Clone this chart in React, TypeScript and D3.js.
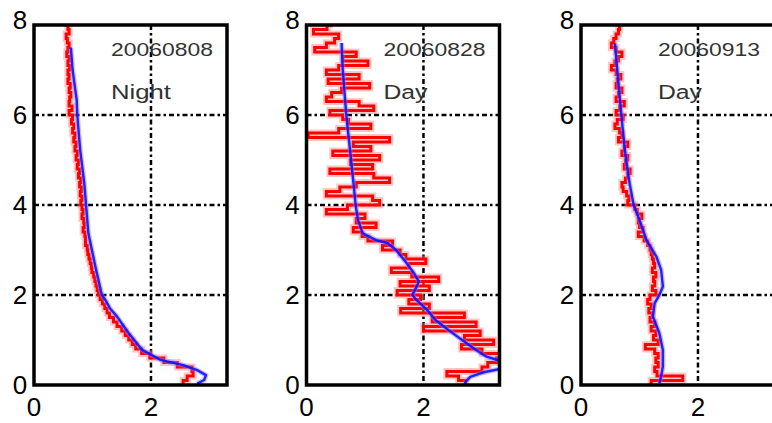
import React from 'react';
import * as d3 from 'd3';

const WIDTH = 772;
const HEIGHT = 423;

// Altitude grid (km) of the high-resolution retrieval, top to bottom
const redAltitudes = [
  8.0, 7.9, 7.8, 7.7, 7.6, 7.5, 7.4, 7.3, 7.2, 7.1,
  7.0, 6.9, 6.8, 6.7, 6.6, 6.5, 6.4, 6.3, 6.2, 6.1,
  6.0, 5.9, 5.8, 5.7, 5.6, 5.5, 5.4, 5.3, 5.2, 5.1,
  5.0, 4.9, 4.8, 4.7, 4.6, 4.5, 4.4, 4.3, 4.2, 4.1,
  4.0, 3.9, 3.8, 3.7, 3.6, 3.5, 3.4, 3.3, 3.2, 3.1,
  3.0, 2.9, 2.8, 2.7, 2.6, 2.5, 2.4, 2.3, 2.2, 2.1,
  2.0, 1.9, 1.8, 1.7, 1.6, 1.5, 1.4, 1.3, 1.2, 1.1,
  1.0, 0.9, 0.8, 0.7, 0.6, 0.5, 0.4, 0.3, 0.2, 0.1,
  0.0,
];

// 20060808 (night) profiles
const red0808 = [
  0.52, 0.58, 0.60, 0.55, 0.57, 0.60, 0.58, 0.56, 0.60, 0.58,
  0.61, 0.58, 0.60, 0.58, 0.62, 0.60, 0.63, 0.61, 0.60, 0.65,
  0.60, 0.66, 0.64, 0.68, 0.66, 0.70, 0.68, 0.72, 0.70, 0.74,
  0.72, 0.76, 0.74, 0.78, 0.76, 0.80, 0.78, 0.81, 0.79, 0.82,
  0.80, 0.82, 0.84, 0.82, 0.85, 0.86, 0.84, 0.87, 0.88, 0.88,
  0.91, 0.92, 0.94, 0.96, 0.98, 0.99, 1.02, 1.04, 1.06, 1.08,
  1.10, 1.13, 1.17, 1.21, 1.25, 1.29, 1.36, 1.42, 1.50, 1.56,
  1.62, 1.68, 1.74, 1.84, 1.98, 2.22, 2.45, 2.70, 2.72, 2.62,
  2.55,
];
const blueAlt0808 = [7.5, 7.0, 6.33, 6.0, 5.22, 4.48, 4.0, 3.37, 2.63, 2.0, 1.89, 1.7, 1.52, 1.15, 0.78, 0.56, 0.44, 0.33, 0.22, 0.11, 0.03];
const blue0808 = [0.63, 0.66, 0.73, 0.74, 0.79, 0.86, 0.89, 0.93, 1.05, 1.16, 1.22, 1.30, 1.42, 1.62, 1.85, 2.16, 2.55, 2.79, 2.94, 2.91, 2.79];

// 20060828 (day) profiles
const red0828 = [
  0.45, 0.35, 0.12, 0.55, 0.48, 0.34, 0.14, 0.85, 0.62, 1.05,
  0.55, 0.34, 0.90, 0.37, 1.08, 0.60, 0.43, 0.34, 0.90, 1.15,
  0.40, 0.62, 0.72, 1.10, 0.55, 0.03, 1.42, 0.80, 1.10, 0.45,
  1.25, 0.75, 1.13, 0.40, 1.15, 1.42, 0.85, 0.57, 0.34, 1.13,
  1.25, 0.70, 0.34, 1.00, 0.85, 1.19, 0.80, 0.95, 1.05, 1.47,
  1.30, 1.60, 1.70, 2.04, 1.75, 1.45, 1.80, 2.26, 1.60, 2.10,
  1.55, 1.95, 1.75, 2.10, 1.61, 2.70, 2.15, 2.90, 2.00, 2.97,
  2.70, 3.20, 2.65, 3.00, 3.30, 3.25, 3.10, 3.00, 2.40, 2.60,
  2.72,
];
const blueAlt0828 = [7.6, 7.0, 6.0, 5.15, 4.4, 4.0, 3.67, 3.37, 3.22, 3.15, 3.0, 2.78, 2.48, 2.3, 2.18, 2.0, 1.89, 1.67, 1.44, 1.22, 1.0, 0.78, 0.63, 0.55, 0.45, 0.36, 0.29, 0.18, 0.07, 0.0];
const blue0828 = [0.60, 0.62, 0.68, 0.75, 0.81, 0.84, 0.88, 0.96, 1.19, 1.39, 1.53, 1.67, 1.84, 1.92, 1.88, 1.81, 1.88, 2.06, 2.21, 2.43, 2.66, 2.90, 3.08, 3.28, 3.40, 3.32, 3.05, 2.80, 2.72, 2.70];

// 20060913 (day) profiles
const red0913 = [
  0.62, 0.66, 0.64, 0.60, 0.56, 0.52, 0.60, 0.70, 0.64, 0.58,
  0.52, 0.60, 0.68, 0.62, 0.60, 0.70, 0.64, 0.60, 0.74, 0.66,
  0.60, 0.72, 0.62, 0.58, 0.66, 0.70, 0.64, 0.80, 0.74, 0.70,
  0.80, 0.76, 0.74, 0.84, 0.80, 0.76, 0.70, 0.72, 0.78, 0.82,
  0.80, 0.92, 0.96, 1.04, 0.98, 1.00, 1.06, 0.98, 1.08, 1.14,
  1.18, 1.20, 1.22, 1.24, 1.26, 1.22, 1.28, 1.24, 1.26, 1.22,
  1.28, 1.18, 1.14, 1.20, 1.16, 1.22, 1.18, 1.26, 1.20, 1.28,
  1.24, 1.32, 1.10, 1.26, 1.32, 1.28, 1.32, 1.26, 1.30, 1.74,
  1.20,
];
const blueAlt0913 = [7.59, 6.85, 6.0, 5.22, 4.56, 4.0, 3.67, 3.22, 2.85, 2.56, 2.19, 2.0, 1.82, 1.52, 1.15, 0.78, 0.41, 0.19, 0.04];
const blue0913 = [0.58, 0.63, 0.69, 0.75, 0.82, 0.90, 1.00, 1.12, 1.29, 1.37, 1.40, 1.34, 1.26, 1.23, 1.34, 1.40, 1.40, 1.37, 1.34];

const panelDates = ['20060808', '20060828', '20060913'];
const panelPeriods = ['Night', 'Day', 'Day'];

const xTicks = [0, 2];
const yTicks = [0, 2, 4, 6, 8];
const xGrid = [2];
const yGrid = [2, 4, 6];
const X_DOMAIN: [number, number] = [0, 3.3];
const Y_DOMAIN: [number, number] = [0, 8];

// Layout
const PANEL_LEFTS = [34, 306.5, 581];
const PLOT_W = 193;
const PLOT_TOP = 25;
const PLOT_BOTTOM = 385;
const FONT = '"Liberation Sans", Arial, Helvetica, sans-serif';
const PERIOD_WIDTHS: Record<string, number> = { Night: 60, Day: 44 };

type Profile = { alt: number; val: number };

const zipProfile = (alts: number[], vals: number[]): Profile[] =>
  alts.map((a, i) => ({ alt: a, val: vals[i] }));

const panels = [
  { red: zipProfile(redAltitudes, red0808), blue: zipProfile(blueAlt0808, blue0808) },
  { red: zipProfile(redAltitudes, red0828), blue: zipProfile(blueAlt0828, blue0828) },
  { red: zipProfile(redAltitudes, red0913), blue: zipProfile(blueAlt0913, blue0913) },
];

function Panel({ index }: { index: number }) {
  const left = PANEL_LEFTS[index];
  const x = d3.scaleLinear().domain(X_DOMAIN).range([left, left + PLOT_W]);
  const y = d3.scaleLinear().domain(Y_DOMAIN).range([PLOT_BOTTOM, PLOT_TOP]);
  // raw retrieval: one horizontal run per altitude level
  const stepLine = d3
    .line<Profile>()
    .x((d) => x(d.val))
    .y((d) => y(d.alt))
    .curve(d3.curveStepAfter);
  const line = d3
    .line<Profile>()
    .x((d) => x(d.val))
    .y((d) => y(d.alt));
  const { red, blue } = panels[index];
  const clipId = `clip-${index}`;
  const gridDash = '5,3,2.5,3';
  const period = panelPeriods[index];

  return (
    <g>
      <defs>
        <clipPath id={clipId}>
          <rect x={left} y={PLOT_TOP} width={PLOT_W} height={PLOT_BOTTOM - PLOT_TOP} />
        </clipPath>
      </defs>

      {/* grid */}
      {xGrid.map((g) => (
        <line key={`xg${g}`} x1={x(g)} x2={x(g)} y1={PLOT_TOP} y2={PLOT_BOTTOM}
          stroke="#000" strokeWidth={2.5} strokeDasharray={gridDash} />
      ))}
      {yGrid.map((g) => (
        <line key={`yg${g}`} x1={left} x2={left + PLOT_W} y1={y(g)} y2={y(g)}
          stroke="#000" strokeWidth={2.5} strokeDasharray={gridDash} />
      ))}

      {/* labels */}
      <text x={left + 77} y={56} fontFamily={FONT} fontSize={19} fill="#333"
        textLength={102} lengthAdjust="spacingAndGlyphs">{panelDates[index]}</text>
      <text x={left + 77} y={99} fontFamily={FONT} fontSize={20} fill="#333"
        textLength={PERIOD_WIDTHS[period]} lengthAdjust="spacingAndGlyphs">
        {period}
      </text>

      {/* profiles */}
      <g clipPath={`url(#${clipId})`}>
        <path d={stepLine(red) ?? ''} fill="none" stroke="#ff8080" strokeOpacity={0.45}
          strokeWidth={7} />
        <path d={stepLine(red) ?? ''} fill="none" stroke="#ff0000" strokeWidth={3} />
        <path d={line(blue) ?? ''} fill="none" stroke="#8a7aff" strokeOpacity={0.45}
          strokeWidth={5} strokeLinejoin="round" />
        <path d={line(blue) ?? ''} fill="none" stroke="#1010ff" strokeOpacity={0.9}
          strokeWidth={2.4} strokeLinejoin="round" />
      </g>

      {/* frame */}
      <rect x={left} y={PLOT_TOP} width={PLOT_W} height={PLOT_BOTTOM - PLOT_TOP}
        fill="none" stroke="#000" strokeWidth={3.5} />

      {/* ticks */}
      {yTicks.map((t) => (
        <text key={`yt${t}`} x={left - 14} y={t === Y_DOMAIN[1] ? y(t) - 5 : y(t)}
          dy="0.36em" textAnchor="middle" fontFamily={FONT} fontSize={26} fill="#000">
          {t}
        </text>
      ))}
      {xTicks.map((t) => (
        <text key={`xt${t}`} x={x(t)} y={416} textAnchor="middle"
          fontFamily={FONT} fontSize={26} fill="#000">
          {t}
        </text>
      ))}
    </g>
  );
}

export default function App() {
  return (
    <svg width={WIDTH} height={HEIGHT} viewBox={`0 0 ${WIDTH} ${HEIGHT}`}
      style={{ position: 'absolute', left: 0, top: 0, background: '#fff' }}>
      <rect width={WIDTH} height={HEIGHT} fill="#fff" />
      {[0, 1, 2].map((i) => (
        <Panel key={i} index={i} />
      ))}
    </svg>
  );
}
